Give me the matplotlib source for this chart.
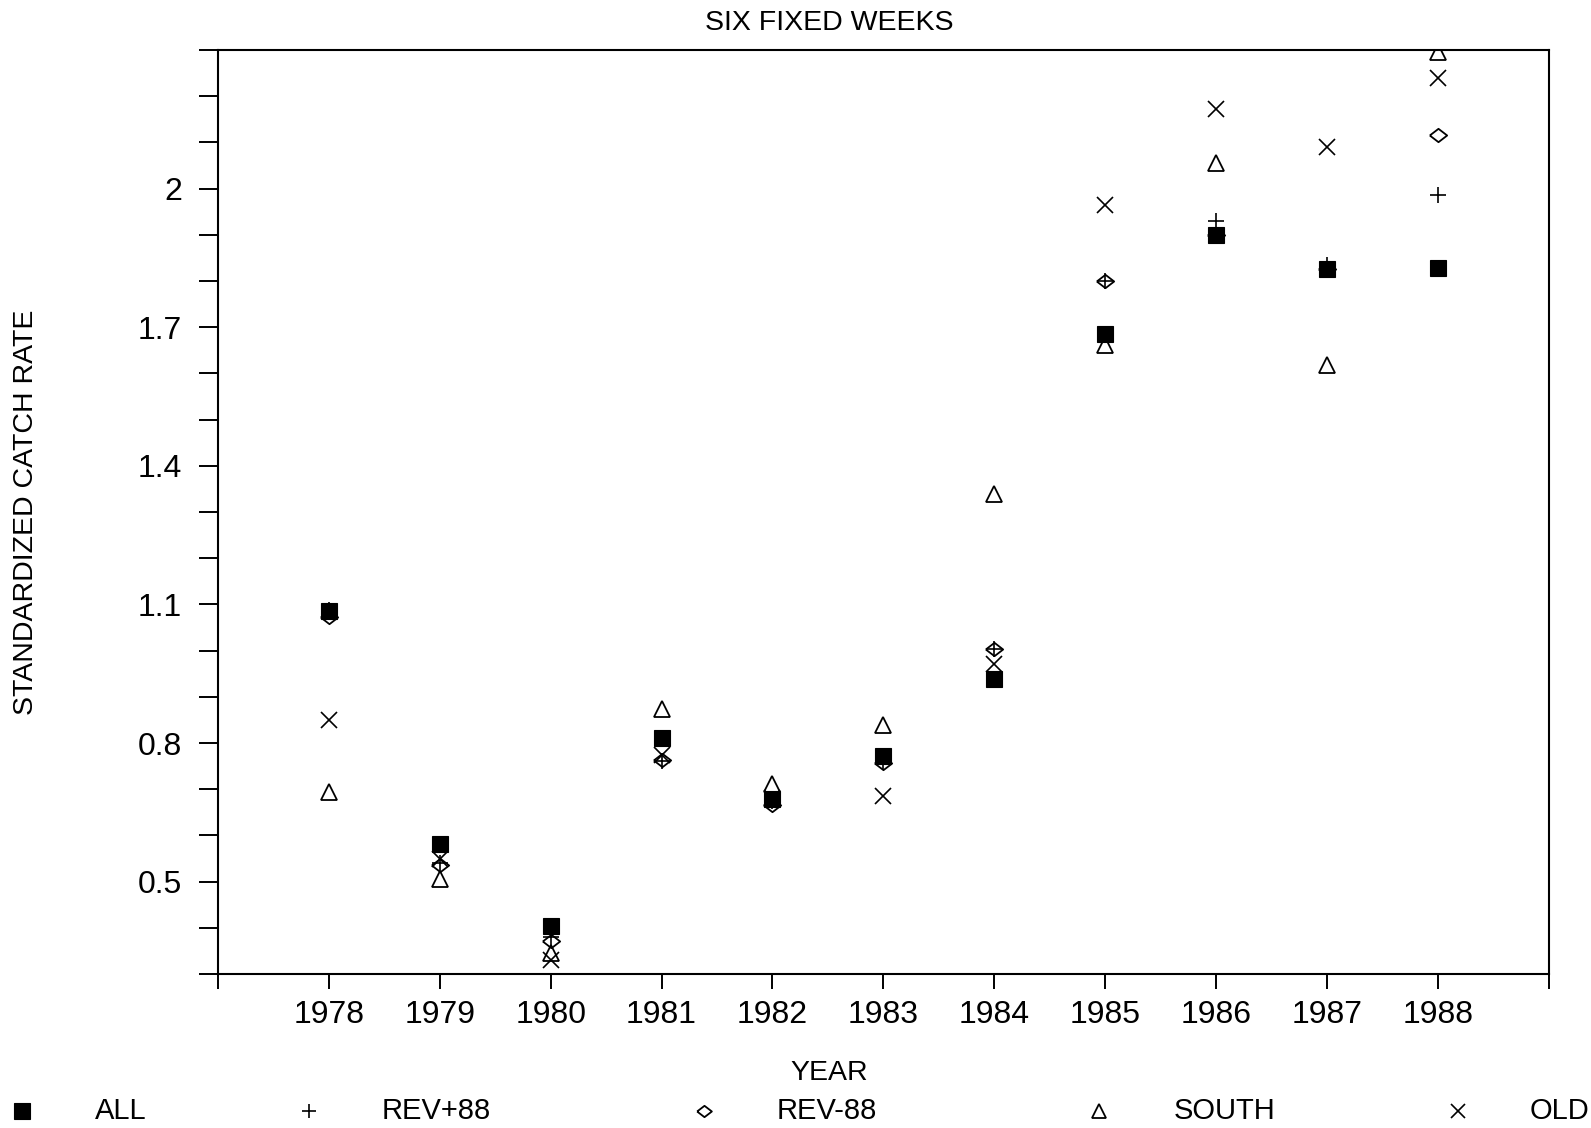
import numpy as np
import matplotlib
matplotlib.use("Agg")
import matplotlib.pyplot as plt
from matplotlib.ticker import MultipleLocator

plt.rcParams['font.family'] = ['Liberation Sans', 'DejaVu Sans']

# ---- data ----
years = [1978, 1979, 1980, 1981, 1982, 1983, 1984, 1985, 1986, 1987, 1988]
rate_all = [1.085, 0.582, 0.405, 0.810, 0.679, 0.771, 0.939, 1.686, 1.900, 1.827, 1.828]
rate_rev_p88 = [1.088, 0.540, 0.380, 0.762, 0.675, 0.760, 1.004, 1.800, 1.929, 1.835, 1.986]
rate_rev_m88 = [1.072, 0.535, 0.372, 0.763, 0.666, 0.757, 1.004, 1.800, 1.900, 1.827, 2.117]
rate_south = [0.694, 0.506, 0.345, 0.874, 0.712, 0.840, 1.340, 1.662, 2.056, 1.619, 2.295]
rate_old = [0.849, 0.550, 0.331, 0.775, 0.680, 0.686, 0.970, 1.964, 2.172, 2.089, 2.240]

labels = ['ALL', 'REV+88', 'REV-88', 'SOUTH', 'OLD']
ytick_vals = [0.5, 0.8, 1.1, 1.4, 1.7, 2.0]
ytick_labels = ['0.5', '0.8', '1.1', '1.4', '1.7', '2']

# wide diamond marker
diamond = [(-1.3, 0), (0, 1), (1.3, 0), (0, -1), (-1.3, 0)]

styles = {
    'SOUTH': dict(marker='^', ms=11.5, mfc='none', mec='black', mew=1.3),
    'OLD': dict(marker='x', ms=11.5, mec='black', mew=1.2),
    'REV-88': dict(marker=diamond, ms=12.5, mfc='none', mec='black', mew=1.3),
    'REV+88': dict(marker='+', ms=12.0, mec='black', mew=1.2),
    'ALL': dict(marker='s', ms=11.0, mfc='black', mec='black', mew=0.8),
}
series = {'ALL': rate_all, 'REV+88': rate_rev_p88, 'REV-88': rate_rev_m88,
          'SOUTH': rate_south, 'OLD': rate_old}

# ---- plot ----
fig = plt.figure(figsize=(15.91, 11.28), dpi=100)
ax = fig.add_axes([0.137, 0.1365, 0.8365, 0.8192])

for name in ['SOUTH', 'OLD', 'REV-88', 'REV+88', 'ALL']:
    ax.plot(years, series[name], linestyle='none', **styles[name])

ax.set_xlim(1977, 1989)
ax.set_ylim(0.3, 2.3)

ax.set_xticks(list(range(1977, 1990)))
ax.set_xticklabels([''] + [str(y) for y in years] + [''])

ax.set_yticks(ytick_vals)
ax.set_yticklabels(ytick_labels)
ax.yaxis.set_minor_locator(MultipleLocator(0.1))

for sp in ax.spines.values():
    sp.set_linewidth(1.5)

ax.tick_params(axis='x', direction='out', length=11, width=1.4, pad=8, labelsize=23)
ax.tick_params(axis='y', which='both', direction='out', length=13.7, width=1.4,
               pad=12, labelsize=23)

fig.text(0.521, 0.9796, 'SIX FIXED WEEKS', ha='center', va='center', fontsize=20.5)
fig.text(0.0165, 0.546, 'STANDARDIZED CATCH RATE', rotation=90, ha='center',
         va='center', fontsize=20.5)
fig.text(0.5215, 0.0488, 'YEAR', ha='center', va='center', fontsize=20.5)

# legend row along the bottom
leg_marker_x = [0.0138, 0.194, 0.4425, 0.691, 0.9164]
leg_text_x = [0.0597, 0.240, 0.488, 0.738, 0.9617]
leg_y = 0.0151
lax = fig.add_axes([0, 0, 1, 1])
lax.set_xlim(0, 1)
lax.set_ylim(0, 1)
lax.axis('off')
for name, mx, tx in zip(labels, leg_marker_x, leg_text_x):
    st = dict(styles[name])
    if name != 'ALL':
        st['ms'] = st['ms'] * 0.85
    lax.plot([mx], [leg_y], linestyle='none', **st)
    lax.text(tx, leg_y, name, ha='left', va='center', fontsize=21)

fig.savefig('out.png', dpi=100)
